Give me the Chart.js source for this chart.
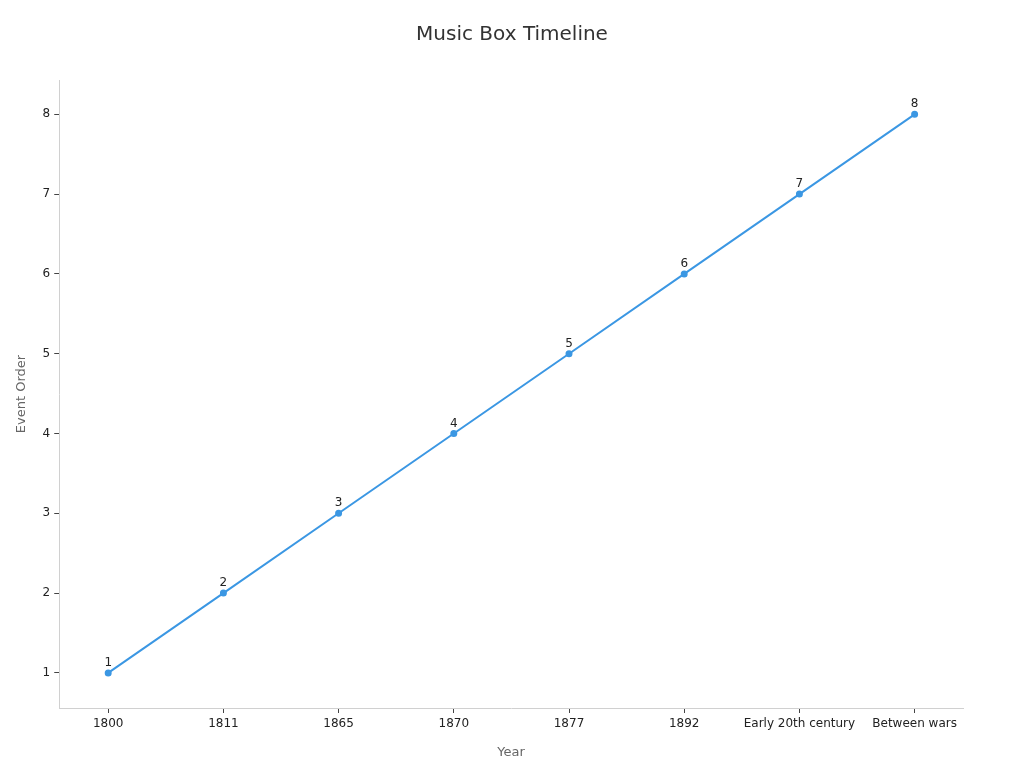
<!DOCTYPE html>
<html>
<head>
<meta charset="utf-8">
<title>Music Box Timeline</title>
<script src="https://cdn.jsdelivr.net/npm/chart.js@4.4.1/dist/chart.umd.min.js"></script>
<style>
  html, body { margin: 0; padding: 0; background: #fff; }
  #wrap { width: 1024px; height: 768px; }
</style>
</head>
<body>
<div id="wrap"><canvas id="grafico" width="1024" height="768"></canvas></div>
<script>
// dados do gráfico
const anos = ['1800', '1811', '1865', '1870', '1877', '1892', 'Early 20th century', 'Between wars'];
const ordemEventos = [1, 2, 3, 4, 5, 6, 7, 8];
const ticksY = [1, 2, 3, 4, 5, 6, 7, 8];
const titulo = 'Music Box Timeline';

const corLinha = '#3b97e3';
const corEixo = '#d0d0d0';
const fonte = 'DejaVu Sans';

// rótulos em cima de cada ponto
const rotulosPontos = {
    id: 'rotulosPontos',
    afterDatasetsDraw(chart) {
        const ctx = chart.ctx;
        const meta = chart.getDatasetMeta(0);
        ctx.save();
        ctx.font = '12px "' + fonte + '"';
        ctx.fillStyle = '#222';
        ctx.textAlign = 'center';
        ctx.textBaseline = 'bottom';
        meta.data.forEach((pt, i) => {
            ctx.fillText(String(ordemEventos[i]), pt.x, pt.y - 4);
        });
        ctx.restore();
    },
    // o título do plugin fica invisível, só reserva o espaço; aqui vai centrado na página
    afterDraw(chart) {
        const ctx = chart.ctx;
        ctx.save();
        ctx.font = '20px "' + fonte + '"';
        ctx.fillStyle = '#333';
        ctx.textAlign = 'center';
        ctx.textBaseline = 'middle';
        ctx.fillText(titulo, chart.width / 2, 35);
        ctx.restore();
    }
};

new Chart(document.getElementById('grafico'), {
    type: 'line',
    data: {
        datasets: [{
            label: 'Event Order',
            data: ordemEventos.map((v, i) => ({ x: i, y: v })),
            borderColor: corLinha,
            backgroundColor: corLinha,
            borderWidth: 2,
            pointRadius: 2.5,
            pointHoverRadius: 3,
            tension: 0
        }]
    },
    options: {
        responsive: false,
        animation: false,
        layout: { padding: { left: 10, right: 61, top: 11, bottom: 4 } },
        plugins: {
            legend: { display: false },
            tooltip: { enabled: false },
            title: {
                display: true,
                text: titulo,
                color: 'rgba(0,0,0,0)',
                font: { family: fonte, size: 20, weight: 'normal' },
                padding: { top: 12, bottom: 33 }
            }
        },
        scales: {
            x: {
                type: 'linear',
                min: -0.425,
                max: 7.42,
                afterBuildTicks: (axis) => {
                    axis.ticks = anos.map((a, i) => ({ value: i }));
                },
                ticks: {
                    color: '#222',
                    font: { family: fonte, size: 12 },
                    padding: 4,
                    maxRotation: 0,
                    autoSkip: false,
                    callback: (v) => anos[v]
                },
                grid: { drawOnChartArea: false, color: '#444', tickLength: 5 },
                border: { color: corEixo },
                title: {
                    display: true,
                    text: 'Year',
                    color: '#666',
                    font: { family: fonte, size: 13 },
                    padding: { top: 9 }
                }
            },
            y: {
                min: 0.56,
                max: 8.43,
                afterBuildTicks: (axis) => {
                    axis.ticks = ticksY.map(v => ({ value: v }));
                },
                ticks: {
                    color: '#222',
                    font: { family: fonte, size: 12 },
                    padding: 4
                },
                grid: { drawOnChartArea: false, color: '#444', tickLength: 5 },
                border: { color: corEixo },
                title: {
                    display: true,
                    text: 'Event Order',
                    color: '#666',
                    font: { family: fonte, size: 13 },
                    padding: { bottom: 9 }
                }
            }
        }
    },
    plugins: [rotulosPontos]
});
</script>
</body>
</html>
